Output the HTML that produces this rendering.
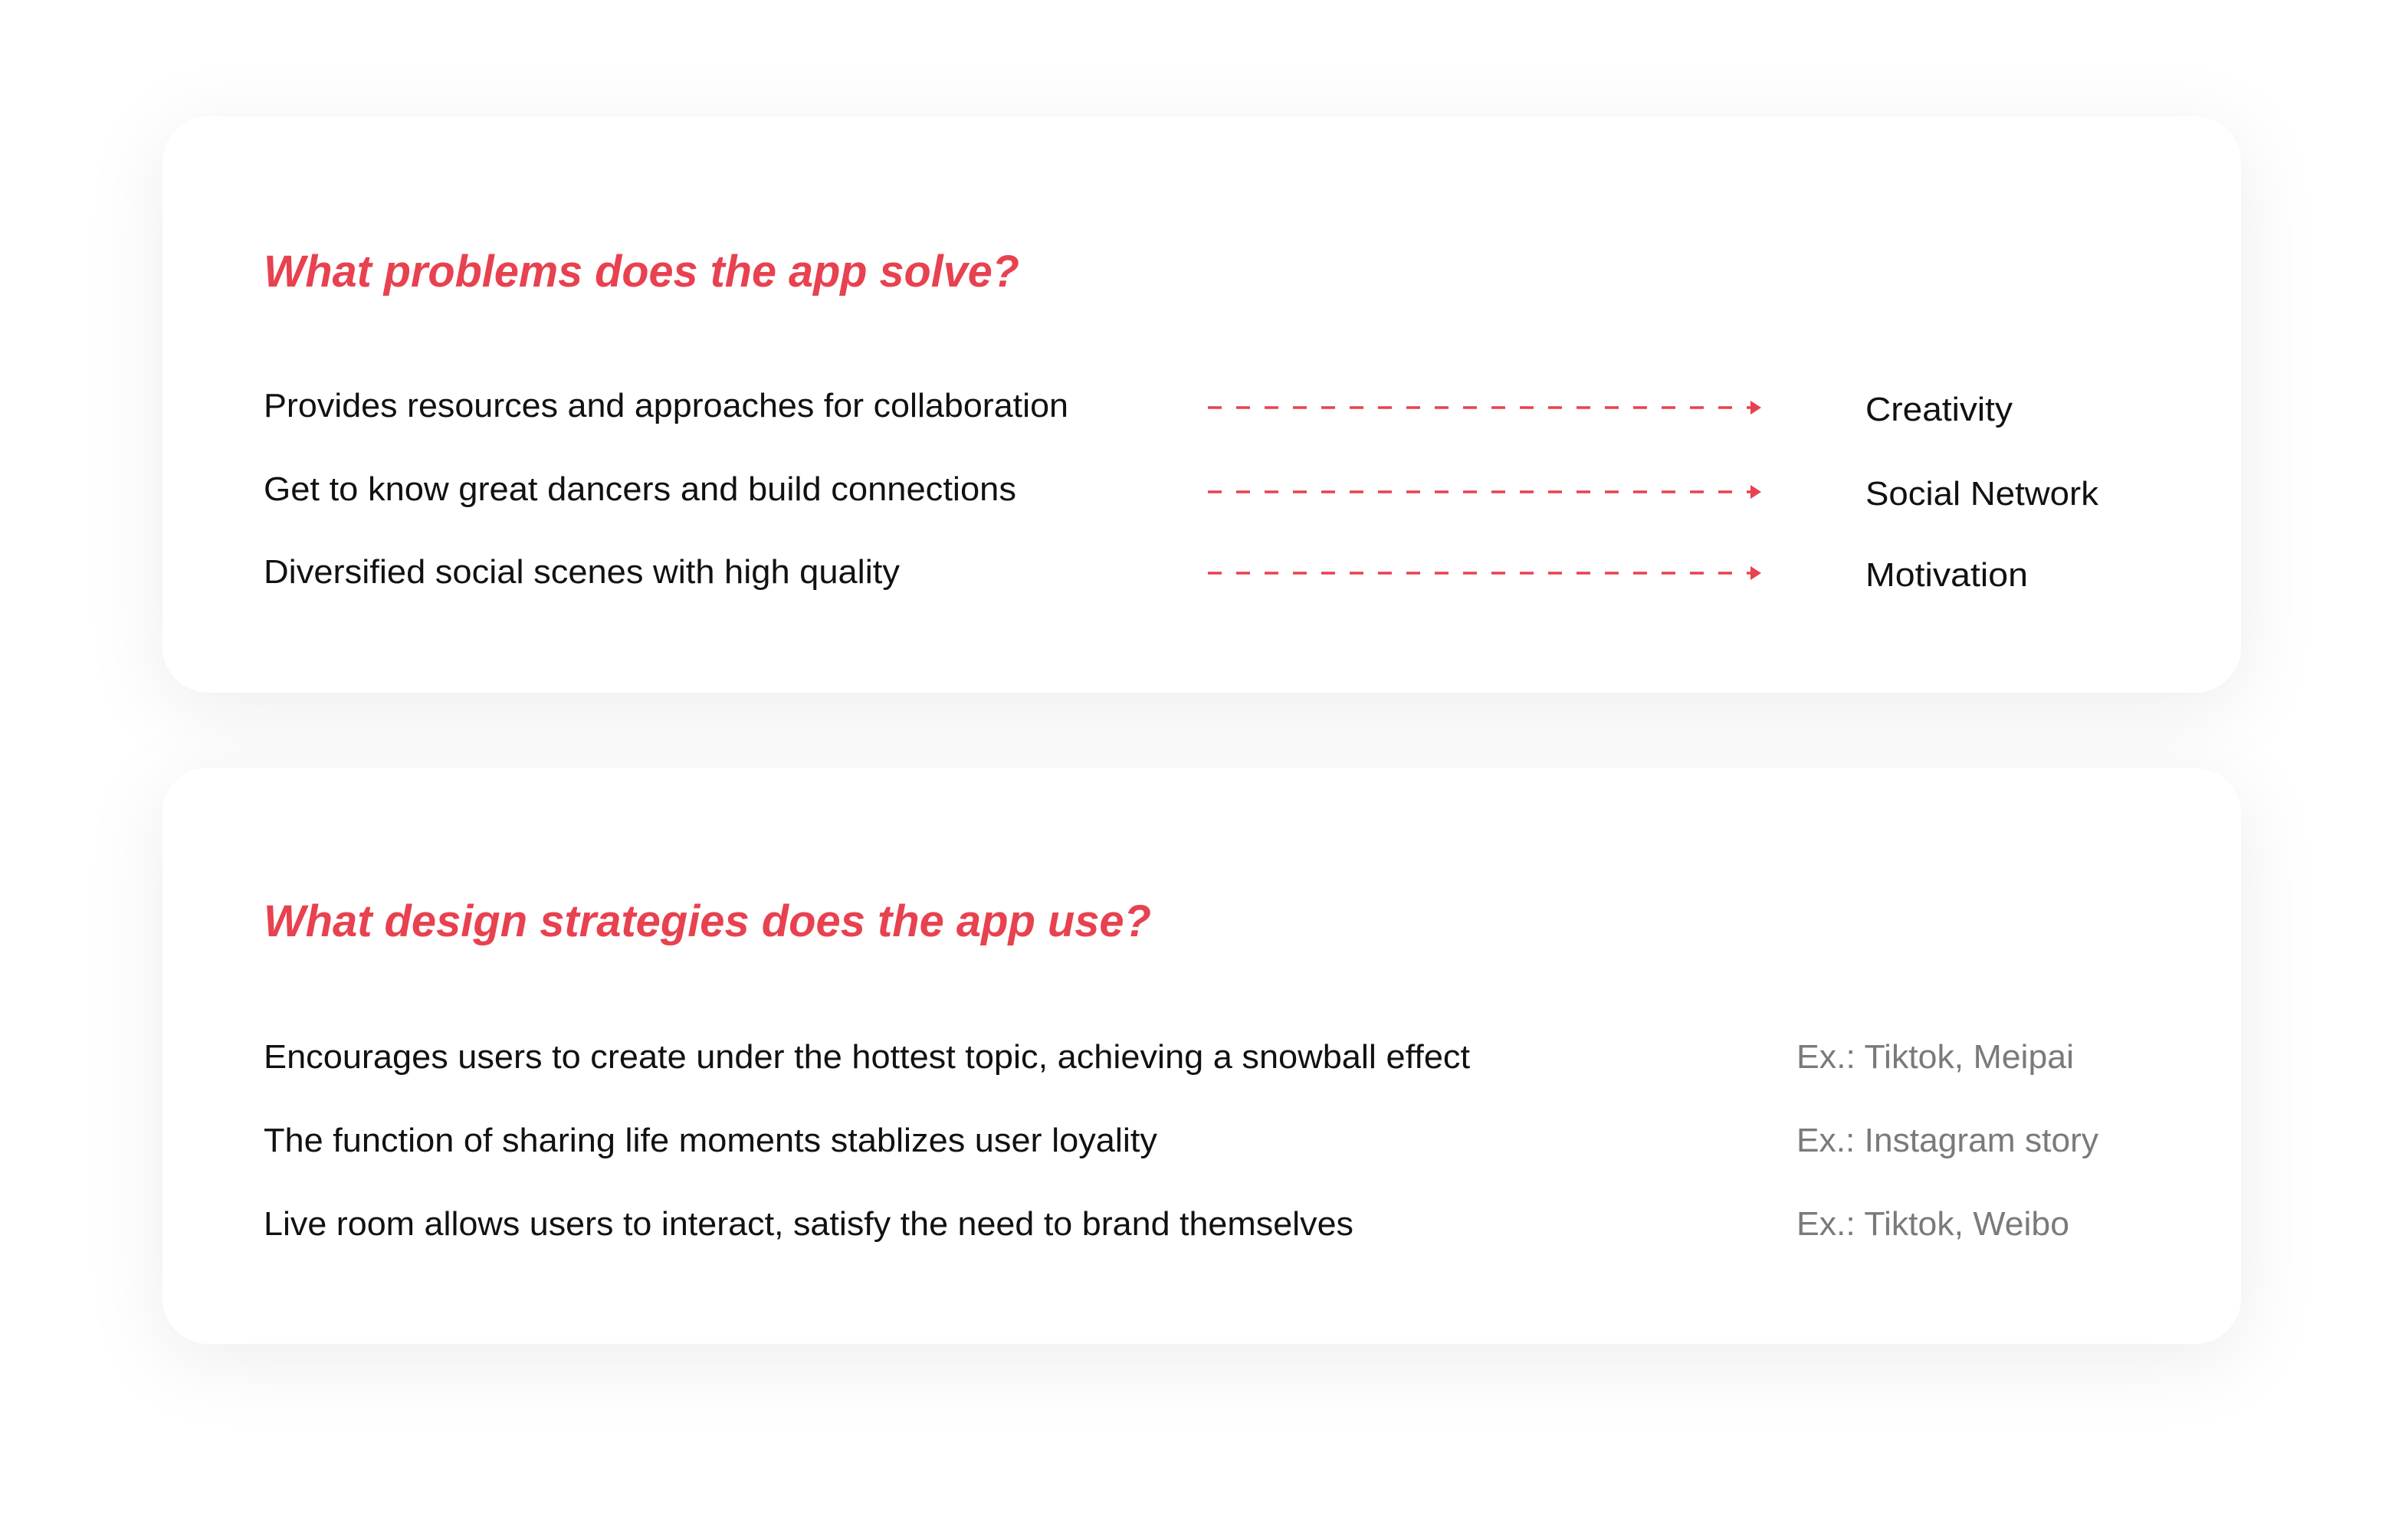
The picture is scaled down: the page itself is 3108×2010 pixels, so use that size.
<!DOCTYPE html>
<html><head><meta charset="utf-8"><style>
html,body{margin:0;padding:0;background:#fff;}
svg{display:block}
</style></head><body>
<svg width="3108" height="2010" viewBox="0 0 3108 2010" xmlns="http://www.w3.org/2000/svg">
<defs>
<filter id="sh" x="-20%" y="-40%" width="140%" height="180%">
<feDropShadow dx="0" dy="20" stdDeviation="50" flood-color="#000" flood-opacity="0.07"/>
</filter>
</defs>
<rect x="0" y="0" width="3108" height="2010" fill="#fff"/>
<rect x="212" y="152" width="2712" height="752" rx="60" fill="#fff" filter="url(#sh)"/>
<rect x="212" y="1002" width="2712" height="752" rx="60" fill="#fff" filter="url(#sh)"/>

<g font-family="Liberation Sans, sans-serif">
<text x="344" y="374" font-size="58" font-weight="bold" font-style="italic" fill="#e8414f" textLength="986" lengthAdjust="spacingAndGlyphs">What problems does the app solve?</text>
<g font-size="44" fill="#111">
<text x="344" y="544" textLength="1050" lengthAdjust="spacingAndGlyphs">Provides resources and approaches for collaboration</text>
<text x="344" y="653" textLength="982" lengthAdjust="spacingAndGlyphs">Get to know great dancers and build connections</text>
<text x="344" y="761" textLength="830" lengthAdjust="spacingAndGlyphs">Diversified social scenes with high quality</text>
<text x="2434" y="549" textLength="192" lengthAdjust="spacingAndGlyphs">Creativity</text>
<text x="2434" y="659" textLength="304" lengthAdjust="spacingAndGlyphs">Social Network</text>
<text x="2434" y="765" textLength="212" lengthAdjust="spacingAndGlyphs">Motivation</text>
</g>
<g stroke="#e8414f" stroke-width="3.5" stroke-dasharray="18 19">
<line x1="1576" y1="532" x2="2284" y2="532"/>
<line x1="1576" y1="642" x2="2284" y2="642"/>
<line x1="1576" y1="748" x2="2284" y2="748"/>
</g>
<g fill="#e8414f">
<polygon points="2284,523 2298,532 2284,541"/>
<polygon points="2284,633 2298,642 2284,651"/>
<polygon points="2284,739 2298,748 2284,757"/>
</g>

<text x="344" y="1222" font-size="58" font-weight="bold" font-style="italic" fill="#e8414f" textLength="1158" lengthAdjust="spacingAndGlyphs">What design strategies does the app use?</text>
<g font-size="44" fill="#111">
<text x="344" y="1394" textLength="1574" lengthAdjust="spacingAndGlyphs">Encourages users to create under the hottest topic, achieving a snowball effect</text>
<text x="344" y="1503" textLength="1166" lengthAdjust="spacingAndGlyphs">The function of sharing life moments stablizes user loyality</text>
<text x="344" y="1612" textLength="1422" lengthAdjust="spacingAndGlyphs">Live room allows users to interact, satisfy the need to brand themselves</text>
</g>
<g font-size="44" fill="#7a7a7a">
<text x="2344" y="1394" textLength="362" lengthAdjust="spacingAndGlyphs">Ex.: Tiktok, Meipai</text>
<text x="2344" y="1503" textLength="394" lengthAdjust="spacingAndGlyphs">Ex.: Instagram story</text>
<text x="2344" y="1612" textLength="356" lengthAdjust="spacingAndGlyphs">Ex.: Tiktok, Weibo</text>
</g>
</g>
</svg>
</body></html>
